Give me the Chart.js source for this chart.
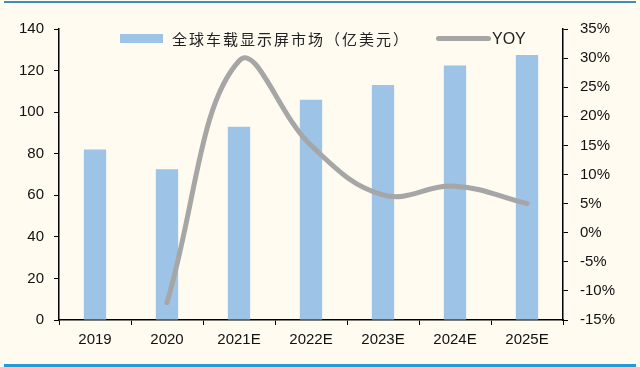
<!DOCTYPE html>
<html>
<head>
<meta charset="utf-8">
<script src="https://cdn.jsdelivr.net/npm/chart.js@4"></script>
<style>
  body { margin: 0; background: #fffbf1; }
  #wrap { position: relative; width: 640px; height: 367px; background: #fffbf1; }
  #topline { position: absolute; left: 4px; top: 1px; width: 632px; height: 2px; background: #3b90ba; }
  #botline { position: absolute; left: 4px; top: 364px; width: 632px; height: 3px; background: #1f9bd7; }
  #legend { position: absolute; top: 26px; left: 120px; height: 20px; font-family: "Noto Sans CJK SC", sans-serif; color: #222; }
  .item { position: absolute; top: 0; white-space: nowrap; }
  .box { position: absolute; background: #9dc3e6; }
  .ln { position: absolute; background: #a6a6a6; border-radius: 3px; }
</style>
</head>
<body>
<div id="wrap">
  <div id="topline"></div>
  <canvas id="chart" width="640" height="367"></canvas>
  <div id="legend">
    <div class="box" style="left:0;top:8px;width:43px;height:9px"></div>
    <div class="item" style="left:52px;font-size:15px;letter-spacing:2px;line-height:25px">全球车载显示屏市场（亿美元）</div>
    <div class="ln" style="left:316px;top:10px;width:55px;height:5px"></div>
    <div class="item" style="left:372px;font-family:'Liberation Sans',sans-serif;font-size:16px;line-height:25px">YOY</div>
  </div>
  <div id="botline"></div>
</div>
<script>
const categories = ['2019', '2020', '2021E', '2022E', '2023E', '2024E', '2025E'];
const marketSize = [82, 72.5, 93, 106, 113, 122.5, 127.5];
const yoy = [null, -12, 29.5, 15, 6.5, 8, 5];
const leftTicks = [0, 140, 20];
const rightTicks = [-15, 35, 5];

const tickFont = { family: 'Liberation Sans', size: 15 };

new Chart(document.getElementById('chart'), {
  data: {
    labels: categories,
    datasets: [
      {
        type: 'line',
        label: 'YOY',
        data: yoy,
        yAxisID: 'y1',
        borderColor: '#a6a6a6',
        borderWidth: 5,
        borderCapStyle: 'round',
        tension: 0.4,
        pointRadius: 0,
        spanGaps: true,
        order: 0
      },
      {
        type: 'bar',
        label: '全球车载显示屏市场（亿美元）',
        data: marketSize,
        yAxisID: 'y',
        backgroundColor: '#9dc3e6',
        barPercentage: 0.31,
        categoryPercentage: 1,
        order: 1
      }
    ]
  },
  options: {
    responsive: false,
    animation: false,
    layout: { padding: { top: 29, left: 0, right: 0, bottom: 0 } },
    plugins: { legend: { display: false }, tooltip: { enabled: false } },
    scales: {
      x: {
        grid: { display: true, drawOnChartArea: false, color: '#000', tickLength: 5, offset: true },
        border: { color: '#000', width: 1.5 },
        ticks: { color: '#111', font: tickFont, padding: 6 },
        afterFit: function (s) { s.height = 47; }
      },
      y: {
        position: 'left',
        min: leftTicks[0],
        max: leftTicks[1],
        grid: { drawOnChartArea: false, color: '#000', tickLength: 5 },
        border: { color: '#000', width: 1.5 },
        ticks: { stepSize: leftTicks[2], color: '#111', font: tickFont, padding: 10 },
        afterFit: function (s) { s.width = 59; }
      },
      y1: {
        position: 'right',
        min: rightTicks[0],
        max: rightTicks[1],
        grid: { drawOnChartArea: false, color: '#000', tickLength: 5 },
        border: { color: '#000', width: 1.5 },
        ticks: { stepSize: rightTicks[2], color: '#111', font: tickFont, padding: 12,
          callback: function (v) { return v + '%'; } },
        afterFit: function (s) { s.width = 77; }
      }
    }
  }
});
</script>
</body>
</html>
